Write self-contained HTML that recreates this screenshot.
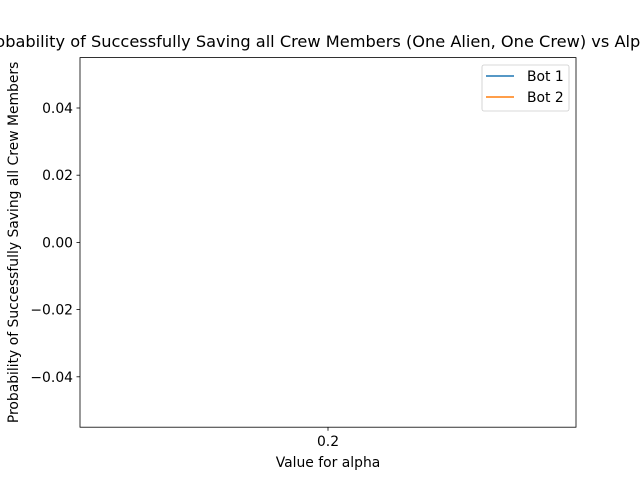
<!DOCTYPE html>
<html><head><meta charset="utf-8"><style>
body{margin:0;background:#fff;width:640px;height:480px;overflow:hidden}
svg{font-family:"DejaVu Sans","Liberation Sans",sans-serif}
</style></head><body>
<svg id="chart" width="640" height="480" xmlns="http://www.w3.org/2000/svg">
<rect width="640" height="480" fill="#fff"/>
<text x="320" y="47" text-anchor="middle" font-size="16.2">Probability of Successfully Saving all Crew Members (One Alien, One Crew) vs Alpha</text>
<g id="plot"></g>
<rect x="80" y="57.6" width="496" height="369.6" fill="none" stroke="#000" stroke-width="0.8"/>
<text x="328" y="467" text-anchor="middle" font-size="13.9">Value for alpha</text>
<text transform="translate(18,242.4) rotate(-90)" text-anchor="middle" font-size="13.9">Probability of Successfully Saving all Crew Members</text>
<g>
<rect x="482" y="65" width="87" height="46" rx="2" fill="#fff" fill-opacity="0.8" stroke="#ccc" stroke-width="0.8"/>
<line x1="486" y1="76" x2="514" y2="76" stroke="#1f77b4" stroke-width="1.5"/>
<text x="527" y="81" font-size="13.9">Bot 1</text>
<line x1="486" y1="97" x2="514" y2="97" stroke="#ff7f0e" stroke-width="1.5"/>
<text x="527" y="102" font-size="13.9">Bot 2</text>
</g>
</svg>
<script>
const categories = [0.2];
const bot1 = [0];
const bot2 = [0];
const yTicks = [-0.04, -0.02, 0.00, 0.02, 0.04];
const yTickLabels = ["\u22120.04", "\u22120.02", "0.00", "0.02", "0.04"];

const NS = "http://www.w3.org/2000/svg";
const L = 80, R = 576, T = 57.6, B = 427.2;
const yMin = -0.055, yMax = 0.055;
function y(v){ return B - (v - yMin) / (yMax - yMin) * (B - T); }
function x(i){ return categories.length === 1 ? (L + R) / 2 : L + 24.8 + i * (R - L - 49.6) / (categories.length - 1); }
const g = document.getElementById('plot');
function mk(tag, attrs){ const e = document.createElementNS(NS, tag); for (const k in attrs) e.setAttribute(k, attrs[k]); g.appendChild(e); return e; }

yTicks.forEach((v, i) => {
  const t = mk('line', {x1: L - 3.5, x2: L, y1: y(v), y2: y(v), stroke: '#000', 'stroke-width': 0.8});
  
  
  const lb = mk('text', {x: L - 7, y: y(v) + 5, 'text-anchor': 'end', 'font-size': 13.9});
  lb.textContent = yTickLabels[i];
  
  
});
categories.forEach((c, i) => {
  const t = mk('line', {x1: x(i), x2: x(i), y1: B, y2: B + 3.5, stroke: '#000', 'stroke-width': 0.8});
  
  
  const lb = mk('text', {x: x(i), y: B + 19, 'text-anchor': 'middle', 'font-size': 13.9});
  lb.textContent = String(c);
  
  
});
function series(vals, color, name){
  const pts = vals.map((v, i) => x(i) + ',' + y(v)).join(' ');
  const p = mk('polyline', {points: pts, fill: 'none', stroke: color, 'stroke-width': 1.5});
  
  
}
series(bot1, '#1f77b4', 'bot-1-line');
series(bot2, '#ff7f0e', 'bot-2-line');
</script>
</body></html>
